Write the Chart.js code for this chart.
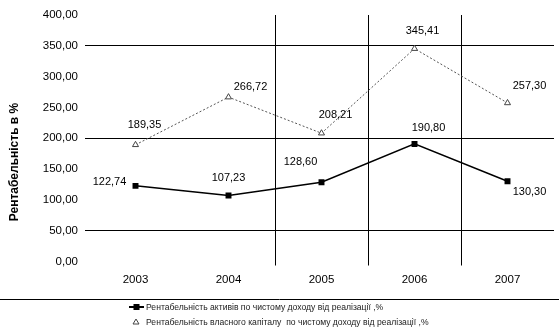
<!DOCTYPE html>
<html>
<head>
<meta charset="utf-8">
<script src="https://cdn.jsdelivr.net/npm/chart.js@4/dist/chart.umd.min.js"></script>
<style>
  html, body { margin: 0; padding: 0; background: #fff; }
  canvas { display: block; }
</style>
</head>
<body>
<canvas id="chart" width="559" height="332"></canvas>
<script>
const years = ['2003', '2004', '2005', '2006', '2007'];
const assetReturn = [122.74, 107.23, 128.60, 190.80, 130.30];
const equityReturn = [189.35, 266.72, 208.21, 345.41, 257.30];
const assetLabel = 'Рентабельність активів по чистому доходу від реалізації ,%';
const equityLabel = 'Рентабельність власного капіталу  по чистому доходу від реалізації ,%';
const yAxisTitle = 'Рентабельність в %';
const yMin = 0;
const yMax = 400;
const yStep = 50;
const shownRows = [50, 200, 350];
const shownCols = [2, 3, 4];

const FONT = "'Liberation Sans', Arial, sans-serif";
const fmt = (v) => v.toFixed(2).replace('.', ',');

// label offsets (px) from each point, per dataset
const labelOffsets = [
  [[-26, -4], [0, -17], [-21, -20], [14, -16], [22, 11]],
  [[9, -20], [22, -10], [14, -18], [8, -18], [22, -17]],
];

const valueLabels = {
  id: 'valueLabels',
  afterDatasetsDraw(chart) {
    const { ctx } = chart;
    ctx.save();
    ctx.font = `11px ${FONT}`;
    ctx.fillStyle = '#000';
    ctx.textAlign = 'center';
    ctx.textBaseline = 'middle';
    chart.data.datasets.forEach((ds, di) => {
      chart.getDatasetMeta(di).data.forEach((pt, i) => {
        const [dx, dy] = labelOffsets[di][i];
        ctx.fillText(fmt(ds.data[i]), pt.x + dx, pt.y + dy);
      });
    });
    ctx.restore();
  },
};

// rotated axis title, centred on the whole canvas height
const sideTitle = {
  id: 'sideTitle',
  afterDraw(chart) {
    const { ctx } = chart;
    ctx.save();
    ctx.translate(15, 162);
    ctx.rotate(-Math.PI / 2);
    ctx.font = `bold 12px ${FONT}`;
    ctx.fillStyle = '#000';
    ctx.textAlign = 'center';
    ctx.textBaseline = 'middle';
    ctx.fillText(yAxisTitle, 0, 0);
    ctx.restore();
  },
};

const bottomLegend = {
  id: 'bottomLegend',
  afterDraw(chart) {
    const { ctx } = chart;
    const ds = chart.data.datasets;
    ctx.save();
    ctx.strokeStyle = '#000';
    ctx.lineWidth = 1;
    ctx.beginPath();
    ctx.moveTo(0, 299.5);
    ctx.lineTo(559, 299.5);
    ctx.stroke();

    // first entry: line with square
    ctx.lineWidth = 2;
    ctx.beginPath();
    ctx.moveTo(129, 307);
    ctx.lineTo(144, 307);
    ctx.stroke();
    ctx.fillStyle = '#000';
    ctx.fillRect(133.5, 304, 6, 6);

    // second entry: open triangle
    ctx.lineWidth = 1;
    ctx.strokeStyle = '#444';
    ctx.beginPath();
    ctx.moveTo(136, 319);
    ctx.lineTo(139, 324);
    ctx.lineTo(133, 324);
    ctx.closePath();
    ctx.stroke();

    ctx.font = `8.6px ${FONT}`;
    ctx.fillStyle = '#222';
    ctx.textAlign = 'left';
    ctx.textBaseline = 'middle';
    ctx.fillText(ds[0].label, 146, 307.5);
    ctx.fillText(ds[1].label, 146, 322.5);
    ctx.restore();
  },
};

new Chart(document.getElementById('chart').getContext('2d'), {
  type: 'line',
  data: {
    labels: years,
    datasets: [
      {
        label: assetLabel,
        data: assetReturn,
        borderColor: '#000',
        borderWidth: 1.5,
        pointStyle: 'rect',
        pointRadius: 4.2,
        pointBackgroundColor: '#000',
        pointBorderColor: '#000',
        pointBorderWidth: 0,
        tension: 0,
      },
      {
        label: equityLabel,
        data: equityReturn,
        borderColor: '#555',
        borderWidth: 1,
        borderDash: [2, 2],
        pointStyle: 'triangle',
        pointRadius: 3.5,
        pointBackgroundColor: '#fff',
        pointBorderColor: '#444',
        pointBorderWidth: 1,
        tension: 0,
      },
    ],
  },
  options: {
    responsive: false,
    animation: false,
    devicePixelRatio: 1,
    layout: { padding: { top: 15, right: 0, bottom: 40.5, left: 0 } },
    plugins: {
      legend: { display: false },
      tooltip: { enabled: false },
    },
    scales: {
      x: {
        offset: true,
        border: { display: false },
        grid: {
          offset: true,
          tickLength: 4,
          lineWidth: 1,
          color: (ctx) => (shownCols.includes(ctx.index) ? '#000' : 'transparent'),
        },
        ticks: {
          padding: 7,
          color: '#000',
          font: { family: FONT, size: 11.5 },
        },
        afterFit(scale) {
          scale.height = 30;
        },
      },
      y: {
        min: yMin,
        max: yMax,
        border: { display: false },
        grid: {
          tickLength: 4,
          lineWidth: 1,
          color: (ctx) => (ctx.tick && shownRows.includes(ctx.tick.value) ? '#000' : 'transparent'),
        },
        ticks: {
          stepSize: yStep,
          padding: 7,
          color: '#000',
          font: { family: FONT, size: 11.5 },
          callback: (v) => fmt(v),
        },
        afterFit(scale) {
          scale.width = 89;
        },
      },
    },
  },
  plugins: [valueLabels, sideTitle, bottomLegend],
});
</script>
</body>
</html>
